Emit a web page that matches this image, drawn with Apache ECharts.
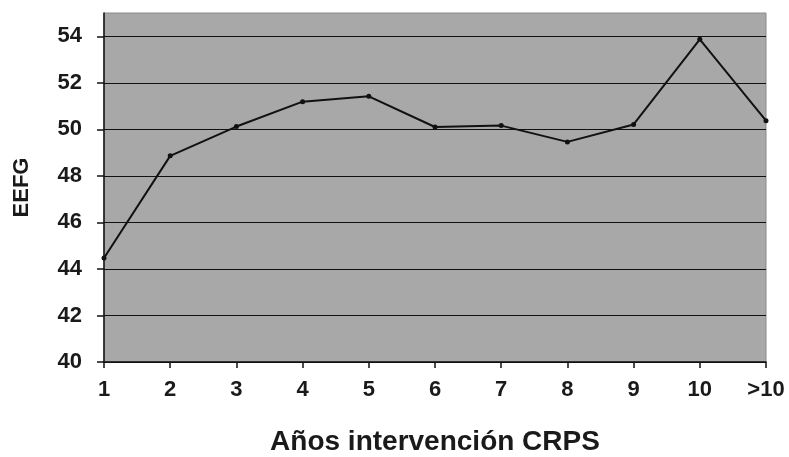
<!DOCTYPE html>
<html><head><meta charset="utf-8">
<script src="https://cdn.jsdelivr.net/npm/echarts@6/dist/echarts.min.js"></script>
<style>html,body{margin:0;padding:0;background:#fff}#c{width:789px;height:457px}</style>
</head><body><div id="c"></div>
<script>
const categories = ['1','2','3','4','5','6','7','8','9','10','>10'];
const eefgValues = [44.47, 48.86, 50.12, 51.19, 51.42, 50.10, 50.16, 49.46, 50.21, 53.87, 50.37];
const yTicks = [40, 42, 44, 46, 48, 50, 52, 54];

const chart = echarts.init(document.getElementById('c'));
const font = 'Liberation Sans, Arial, sans-serif';
chart.setOption({
  animation: false,
  grid: {left: 104, right: 23, top: 13, bottom: 95, outerBoundsMode: 'none', containLabel: false,
    show: true, backgroundColor: '#a8a8a8', borderColor: '#8a8a8a', borderWidth: 1},
  xAxis: {
    type: 'category', data: categories, boundaryGap: false,
    name: 'Años intervención CRPS', nameLocation: 'middle', nameGap: 66,
    nameTextStyle: {fontFamily: font, fontWeight: 'bold', fontSize: 28, color: '#1a1a1a'},
    axisLine: {lineStyle: {color: '#111', width: 1.5}},
    axisTick: {alignWithLabel: true, length: 6, lineStyle: {color: '#111', width: 1.5}},
    axisLabel: {fontFamily: font, fontWeight: 'bold', fontSize: 22, color: '#1a1a1a', margin: 17},
    splitLine: {show: false}
  },
  yAxis: {
    type: 'value', min: 40, max: 55, interval: 2,
    name: 'EEFG', nameLocation: 'middle', nameGap: 71, nameRotate: 90,
    nameTextStyle: {fontFamily: font, fontWeight: 'bold', fontSize: 22, color: '#1a1a1a'},
    axisLine: {show: true, lineStyle: {color: '#111', width: 1.5}},
    axisTick: {show: true, length: 7, customValues: yTicks, lineStyle: {color: '#111', width: 1.5}},
    axisLabel: {fontFamily: font, fontWeight: 'bold', fontSize: 22, color: '#1a1a1a', margin: 22,
      customValues: yTicks},
    splitLine: {show: true, lineStyle: {color: '#111', width: 1.2}}
  },
  series: [{
    type: 'line', data: eefgValues,
    lineStyle: {color: '#111', width: 2},
    itemStyle: {color: '#111'},
    symbol: 'circle', symbolSize: 5
  }]
});
</script></body></html>
